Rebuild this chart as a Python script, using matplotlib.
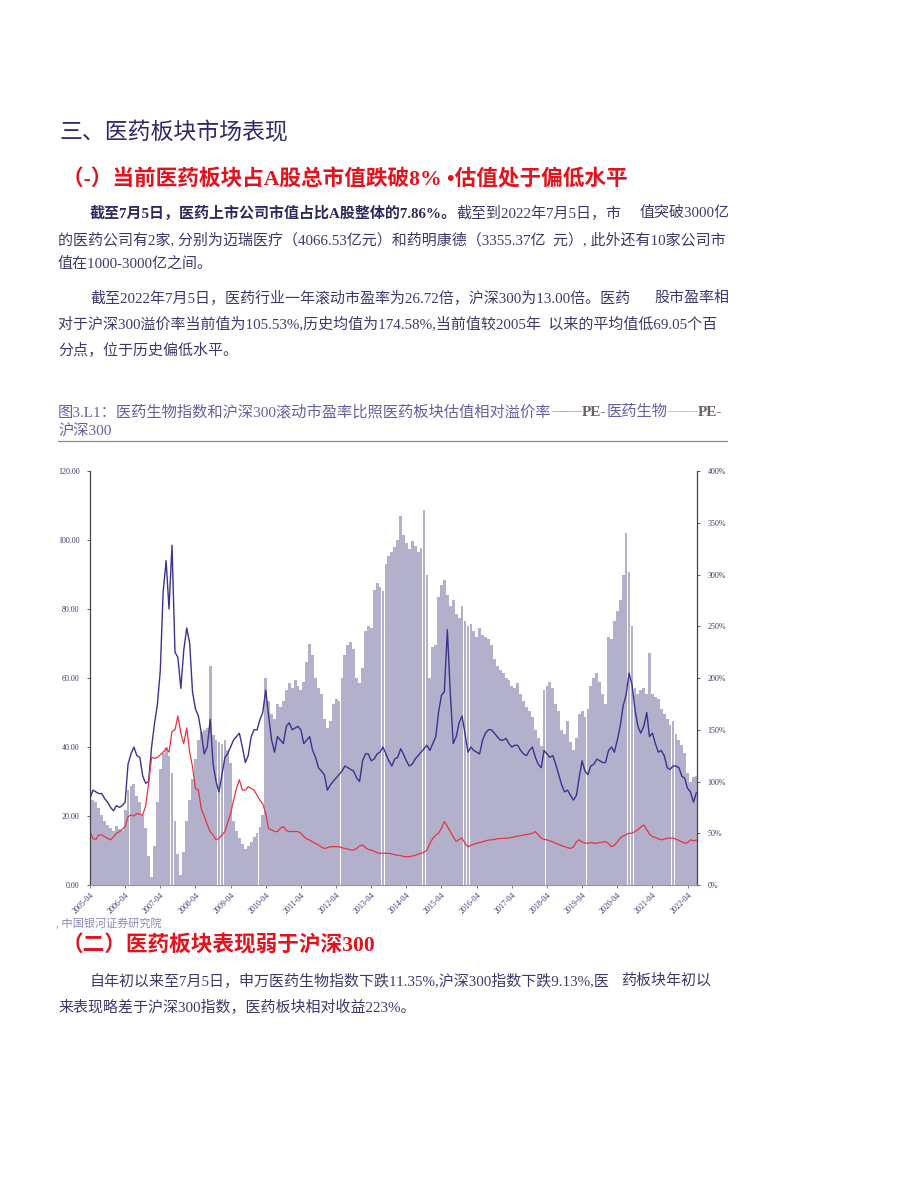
import matplotlib
matplotlib.use("Agg")
import matplotlib.pyplot as plt
from matplotlib.lines import Line2D
import numpy as np
import pandas as pd

plt.rcParams['font.family'] = ['Liberation Serif', 'Noto Sans CJK SC']

# ================================
# Dados (mensais, 2005-04 a 2022-07)
# ================================
pe_med = [
    25, 27.5, 27, 26.5, 26.5, 25, 24, 22.5, 21.5, 23, 22.5, 23,
    24, 35, 38, 40, 37.5, 37, 31.5, 29.5, 30, 40, 47, 52,
    62, 85, 94, 80, 98.5, 67.5, 66, 57, 68, 74.5, 70, 56,
    51, 49, 44, 38, 40, 48, 35, 30, 27, 32, 37, 38,
    40, 42, 43, 44, 40, 35.5, 37.5, 43, 45, 45, 48, 50,
    56.5, 49, 42, 38.5, 43, 42, 41, 46, 47, 45, 45.5, 46,
    45, 41, 42, 43, 39, 37, 34, 33, 32, 27.5, 29, 30,
    31, 32, 33, 34.5, 34, 33.5, 33, 31, 30, 36, 38, 38,
    36, 36.5, 38, 38.5, 40, 38, 36, 34.5, 36.5, 37, 39.5, 38,
    36, 34.5, 35, 36.5, 37.5, 38.5, 39.5, 40.5, 39, 41, 43, 50,
    55, 56, 74, 56, 41, 43, 47, 49, 44, 38.5, 40, 39,
    38.5, 38, 42, 44, 45, 45, 44, 43, 42, 42, 42.5, 41,
    40, 40.5, 40.5, 39, 38, 37.5, 39, 40, 37, 35, 34, 39,
    38, 37, 37.5, 35, 32, 29, 27, 27.5, 26, 24.6, 26, 31,
    36, 33, 32, 34.5, 35, 36.5, 36, 35.5, 35.5, 39, 40, 38.5,
    42, 46, 52, 55, 61.4, 58, 51, 46, 44, 46, 50, 43,
    44, 41, 38.5, 39, 37.5, 34, 33.5, 34.5, 34.5, 34, 31.5, 31,
    28, 27, 24, 26.7,
]
pe_hs300 = [
    15.5, 13.5, 13.2, 14.5, 14.5, 14, 13.5, 13.1, 14, 15, 15.5, 16,
    17, 19.8, 20.3, 20, 20.7, 20.5, 20.3, 23, 29.5, 37, 36.7, 37,
    37.7, 38.5, 39.6, 38.5, 44.5, 45, 49, 44, 41, 45.5, 38.5, 34.3,
    28, 27.5, 22, 20, 17.5, 15.5, 14.5, 13.1, 13.5, 14.5, 15.5, 18,
    20.7, 24.5, 28, 30.5, 27.5, 27.5, 28.5, 28, 27.5, 26, 24.5, 23.5,
    20.7, 16.3, 16, 15.5, 15.5, 16.5, 16.9, 15.8, 15.5, 15.5, 15.5, 15.5,
    15, 14, 13.4, 13, 12.5, 12, 11.6, 11, 10.6, 10.8, 11.1, 11.1,
    11.1, 11.1, 10.8, 10.6, 10.4, 10.2, 10.1, 10.6, 11.3, 11.6, 10.8, 10.3,
    10.1, 9.8, 9.3, 9.2, 9.2, 9.2, 9.2, 9.0, 8.8, 8.6, 8.5, 8.3,
    8.2, 8.2, 8.4, 8.6, 8.9, 9.2, 9.5, 10.1, 12, 13.5, 14.5, 15,
    16.5, 18.4, 17, 15.5, 14, 12.6, 13.2, 13.6, 12, 11.1, 11.5, 11.8,
    12.1, 12.3, 12.5, 12.8, 13, 13.1, 13.2, 13.4, 13.5, 13.5, 13.6, 13.6,
    13.8, 14, 14.2, 14.3, 14.5, 14.6, 14.8, 15, 15.5, 14.5, 13.6, 13.2,
    13.1, 12.8, 12.5, 12.1, 11.8, 11.4, 11.1, 10.8, 10.6, 11, 12.5, 13.1,
    12.5, 12.1, 12.1, 12.3, 12.1, 12.1, 12.3, 12.4, 12.6, 12, 11.1, 11.5,
    12.5, 13.6, 14.2, 14.6, 15, 15, 15.5, 16, 16.8, 17.4, 16, 14.8,
    14, 13.8, 13.4, 13.1, 13.3, 13.5, 13.6, 13.6, 13.3, 12.9, 12.5, 12.1,
    12.3, 13.1, 12.8, 13.0,
]
premium = [
    78, 82, 80, 74, 68, 62, 58, 55, 52, 57, 54, 52,
    72, 92, 96, 98, 86, 80, 68, 55, 28, 8, 38, 80,
    112, 128, 133, 125, 108, 62, 30, 10, 32, 62, 82, 102,
    122, 140, 148, 150, 152, 212, 145, 140, 138, 136, 140, 130,
    118, 62, 52, 45, 40, 35, 38, 42, 46, 50, 56, 68,
    200, 178, 165, 160, 175, 172, 178, 188, 195, 190, 198, 192,
    188, 196, 215, 233, 222, 200, 190, 185, 160, 152, 158, 175,
    180, 178, 200, 222, 232, 235, 228, 200, 195, 210, 245, 250,
    248, 285, 292, 288, 284, 310, 318, 322, 327, 333, 357, 338,
    330, 325, 332, 328, 322, 326, 362, 300, 200, 230, 232, 278,
    290, 295, 280, 270, 275, 262, 258, 270, 255, 250, 252, 245,
    240, 248, 242, 240, 238, 232, 218, 212, 208, 205, 200, 198,
    192, 190, 195, 185, 178, 172, 168, 162, 150, 142, 134, 188,
    192, 196, 190, 175, 168, 150, 146, 158, 138, 130, 142, 165,
    168, 162, 170, 192, 200, 205, 196, 185, 175, 240, 238, 255,
    265, 275, 300, 340, 302, 250, 190, 185, 188, 190, 185, 224,
    185, 182, 180, 170, 165, 160, 155, 158, 146, 140, 135, 128,
    108, 100, 104, 105.5,
]
dates = pd.date_range("2005-04-01", periods=len(pe_med), freq="MS")
tick_years = list(range(2005, 2023))
left_ticks = [0, 20, 40, 60, 80, 100, 120]
right_ticks = [0, 50, 100, 150, 200, 250, 300, 350, 400]

# cores
BODY = '#3b3a6a'
TITLE = '#2e2a6c'
RED = '#e3121c'
CAP = '#6461a0'
TICK = '#3b3a6e'

W, H = 920, 1199
fig = plt.figure(figsize=(9.2, 11.99), dpi=100)
renderer = fig.canvas.get_renderer()


def fx(x):
    return x / W


def fy(y):
    return 1 - y / H


def put(x, y, s, size=10.8, color=BODY, weight='normal'):
    return fig.text(fx(x), fy(y), s, fontsize=size, color=color,
                    fontweight=weight, va='center', ha='left')


def put_seq(x, y, parts):
    for s, kw in parts:
        t = put(x, y, s, **kw)
        x = t.get_window_extent(renderer).x1
    return x


# ================================
# Textos da página
# ================================
put(60, 133, '三、医药板块市场表现', size=16.5, color=TITLE)
put(62, 180, '（-）当前医药板块占A股总市值跌破8% •估值处于偏低水平', size=15.6, color=RED, weight='bold')

put(90, 213, '截至7月5日，医药上市公司市值占比A股整体的7.86%。', color='#2c2a5e', weight='bold')
put(456, 213, '截至到2022年7月5日，市')
put(640, 213, '值突破3000亿')
put(58, 240, '的医药公司有2家, 分别为迈瑞医疗（4066.53亿元）和药明康德（3355.37亿  元）, 此外还有10家公司市')
put(58, 264, '值在1000-3000亿之间。')

put(90, 298, '截至2022年7月5日，医药行业一年滚动市盈率为26.72倍，沪深300为13.00倍。医药')
put(654, 298, '股市盈率相')
put(58, 324, '对于沪深300溢价率当前值为105.53%,历史均值为174.58%,当前值较2005年  以来的平均值低69.05个百')
put(58, 350, '分点，位于历史偏低水平。')

put_seq(58, 412, [
    ('图3.L1：医药生物指数和沪深300滚动市盈率比照医药板块估值相对溢价率', dict(size=11, color=CAP)),
    ('——', dict(size=11, color='#a09a9a')),
    ('PE-', dict(size=11, color='#6e5f62', weight='bold')),
    ('医药生物', dict(size=11, color=CAP)),
    ('——', dict(size=11, color='#e89a9e')),
    ('PE-', dict(size=11, color='#6e5f62', weight='bold')),
])
put(58, 432, '沪深300', size=11, color=CAP)
fig.add_artist(Line2D([fx(58), fx(727)], [fy(441), fy(441)], color='#8c8c8c', lw=0.9))

put(56, 924, ', 中国银河证券研究院', size=8, color='#8a88b8')
put(62, 946, '（二）医药板块表现弱于沪深300', size=15.6, color=RED, weight='bold')
put(90, 981, '自年初以来至7月5日，申万医药生物指数下跌11.35%,沪深300指数下跌9.13%,医')
put(621, 981, '药板块年初以')
put(58, 1007, '来表现略差于沪深300指数，医药板块相对收益223%。')

# ================================
# Gráfico
# ================================
ax = fig.add_axes([fx(90), fy(885), fx(697) - fx(90), (885 - 471) / H])
ax2 = ax.twinx()

ax2.bar(dates, premium, width=29.5, color='#b3b0cc', linewidth=0)
ax.plot(dates, pe_med, color='#3a338f', lw=1.0)
ax.plot(dates, pe_hs300, color='#e8343c', lw=0.9)

ax.set_zorder(ax2.get_zorder() + 1)
ax.patch.set_visible(False)

ax.set_xlim(pd.Timestamp("2005-04-01"), pd.Timestamp("2022-07-08"))
ax.set_ylim(0, 120)
ax2.set_ylim(0, 400)

ax.set_yticks(left_ticks)
ax.set_yticklabels([f'{v:.2f}' for v in left_ticks])
ax2.set_yticks(right_ticks)
ax2.set_yticklabels([f'{v}%' for v in right_ticks])
ax.set_xticks([pd.Timestamp(f"{y}-04-01") for y in tick_years])
ax.set_xticklabels([f'{y}-04' for y in tick_years], rotation=45, ha='right',
                   rotation_mode='anchor')

ax.tick_params(axis='y', direction='out', length=2.5, width=0.6, labelsize=5.8,
               labelcolor=TICK, color='#444444', pad=5)
ax2.tick_params(axis='y', direction='out', length=2.5, width=0.6, labelsize=5.8,
                labelcolor=TICK, color='#444444', pad=5)
ax.tick_params(axis='x', direction='out', length=2.5, width=0.6, labelsize=5.8,
               labelcolor=TICK, color='#666666', pad=2)

for s in ['top', 'right']:
    ax.spines[s].set_visible(False)
for s in ['top', 'left', 'bottom']:
    ax2.spines[s].set_visible(False)
ax.spines['left'].set_color('#444444')
ax.spines['left'].set_linewidth(0.9)
ax.spines['bottom'].set_color('#9a9a9a')
ax.spines['bottom'].set_linewidth(0.9)
ax2.spines['right'].set_color('#444444')
ax2.spines['right'].set_linewidth(0.9)

fig.savefig("out.png", dpi=100)
